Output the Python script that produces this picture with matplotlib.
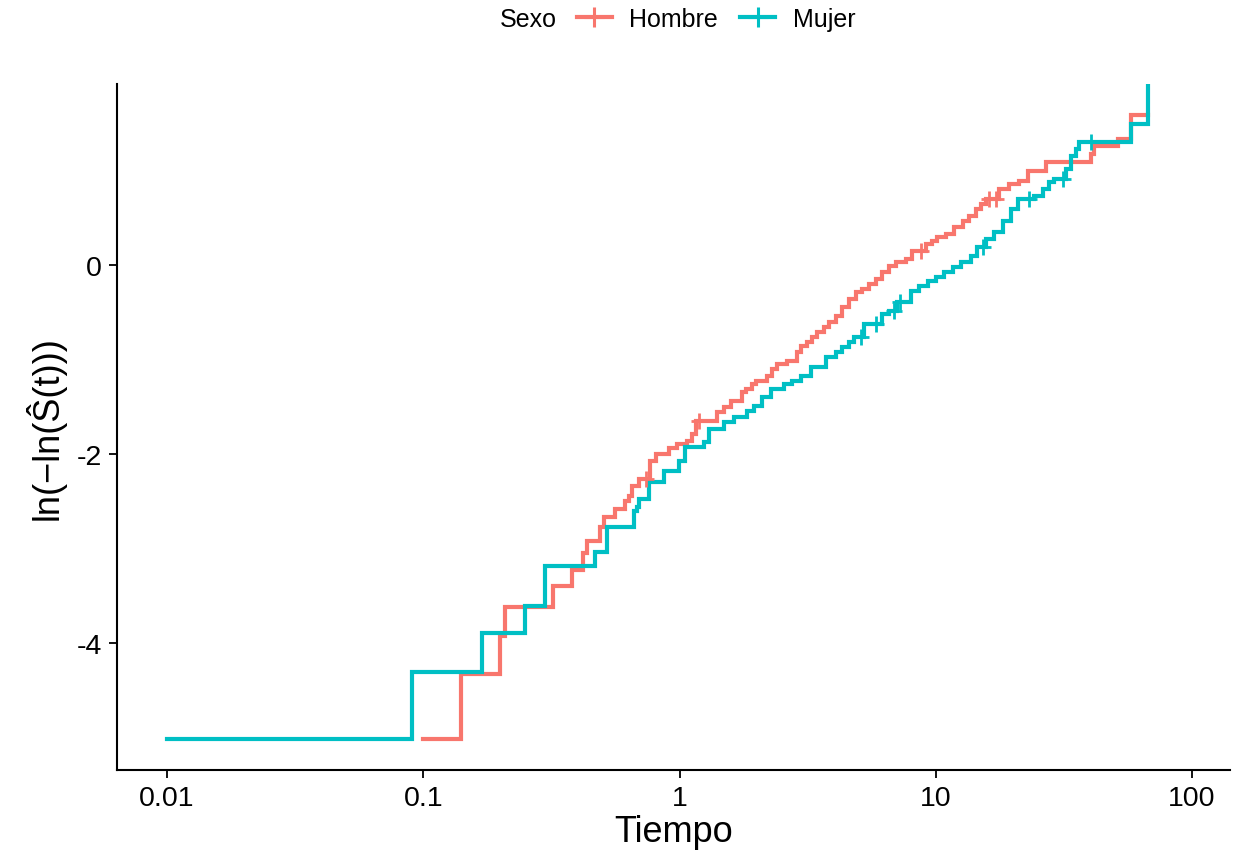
import numpy as np
import matplotlib
matplotlib.use("Agg")
import matplotlib.pyplot as plt
from matplotlib.lines import Line2D

plt.rcParams['font.family'] = ['Liberation Sans', 'DejaVu Sans']

# ---- data: step times and ln(-ln(S(t))) values ----
hombre_t = [0.100, 0.1404, 0.200, 0.209, 0.322, 0.381, 0.420, 0.436, 0.491, 0.506,
            0.562, 0.615, 0.634, 0.653, 0.694, 0.770, 0.806, 0.908, 0.979, 1.072,
            1.121, 1.155, 1.404, 1.485, 1.582, 1.758, 1.811, 1.923, 1.981, 2.201,
            2.302, 2.408, 2.634, 2.883, 2.969, 3.155, 3.299, 3.451, 3.662, 3.830,
            4.068, 4.320, 4.585, 4.870, 5.172, 5.489, 5.832, 6.193, 6.571, 6.980,
            7.636, 8.110, 9.141, 9.707, 10.15, 10.94, 11.79, 12.72, 13.49, 14.33,
            14.99, 15.68, 17.67, 19.34, 21.16, 22.82, 26.90, 40.32, 41.54, 51.27,
            57.78, 67.1]
hombre_v = [-5.02, -4.328, -3.923, -3.616, -3.394, -3.224, -3.048, -2.917, -2.776, -2.670,
            -2.582, -2.494, -2.441, -2.335, -2.265, -2.071, -2.000, -1.940, -1.894, -1.859,
            -1.788, -1.648, -1.559, -1.503, -1.436, -1.344, -1.312, -1.259, -1.224, -1.171,
            -1.101, -1.048, -1.013, -0.924, -0.854, -0.818, -0.765, -0.712, -0.659, -0.606,
            -0.537, -0.448, -0.360, -0.289, -0.254, -0.201, -0.148, -0.077, -0.007, 0.029,
            0.063, 0.151, 0.222, 0.257, 0.293, 0.328, 0.399, 0.469, 0.522, 0.593,
            0.646, 0.698, 0.804, 0.857, 0.892, 0.995, 1.085, 1.175, 1.262, 1.333,
            1.587, 1.587]
hombre_cens = [0.743, 1.186, 8.74, 16.1, 17.1]

mujer_t = [0.010, 0.0903, 0.1695, 0.2503, 0.2996, 0.4695, 0.522, 0.663, 0.684, 0.694,
           0.759, 0.868, 0.994, 1.055, 1.244, 1.302, 1.489, 1.630, 1.839, 1.951,
           2.104, 2.267, 2.556, 2.755, 2.969, 3.250, 3.718, 4.068, 4.320, 4.585,
           4.796, 5.248, 6.193, 6.571, 7.086, 7.988, 8.606, 9.282, 10.0, 10.78,
           11.62, 12.52, 13.70, 14.46, 15.68, 16.90, 18.22, 19.63, 20.85, 24.21,
           26.12, 27.71, 28.98, 32.19, 33.67, 35.24, 36.30, 57.78, 67.1]
mujer_v = [-5.02, -4.304, -3.897, -3.605, -3.188, -3.040, -2.776, -2.600, -2.564, -2.476,
           -2.299, -2.177, -2.071, -1.929, -1.876, -1.735, -1.665, -1.612, -1.542, -1.489,
           -1.400, -1.312, -1.259, -1.224, -1.171, -1.083, -0.977, -0.924, -0.871, -0.818,
           -0.765, -0.624, -0.519, -0.484, -0.395, -0.272, -0.219, -0.166, -0.130, -0.077,
           -0.024, 0.029, 0.098, 0.190, 0.275, 0.346, 0.469, 0.593, 0.698, 0.733,
           0.804, 0.875, 0.910, 1.016, 1.157, 1.228, 1.305, 1.492, np.inf]
mujer_cens = [5.093, 5.832, 6.852, 7.23, 15.22, 23.15, 31.26, 40.32]

groups = ["Hombre", "Mujer"]
colors = ["#F8766D", "#00BFC4"]
xticks = [0.01, 0.1, 1, 10, 100]
xticklabels = ["0.01", "0.1", "1", "10", "100"]
yticks = [-4, -2, 0]

# ---- figure ----
W, H = 1236, 854
fig = plt.figure(figsize=(W / 100, H / 100), dpi=100)
ax = fig.add_axes([117 / W, 1 - 771 / H, (1230 - 117) / W, (771 - 85) / H])

ylim = (-5.344, 1.915)
ax.set_xscale('log')
ax.set_xlim(10 ** -2.195, 10 ** 2.148)
ax.set_ylim(*ylim)

data = [(hombre_t, hombre_v, hombre_cens), (mujer_t, mujer_v, mujer_cens)]
for (t, v, c), col, name in zip(data, colors, groups):
    t = np.asarray(t, float)
    v = np.asarray(v, float)
    vd = np.where(np.isinf(v), ylim[1] + 1, v)
    ax.step(t, vd, where='post', color=col, lw=3.0, solid_joinstyle='miter', zorder=2)
    c = np.asarray(c, float)
    idx = np.searchsorted(t, c, side='right') - 1
    ax.plot(c, v[idx], linestyle='none', marker='+', markersize=12, mew=2.0,
            color=col, zorder=3)

ax.set_xticks(xticks)
ax.set_xticklabels(xticklabels)
ax.xaxis.set_minor_locator(matplotlib.ticker.NullLocator())
ax.set_yticks(yticks)
ax.set_yticklabels([str(y) for y in yticks])

for s in ['top', 'right']:
    ax.spines[s].set_visible(False)
for s in ['left', 'bottom']:
    ax.spines[s].set_linewidth(1.5)
ax.tick_params(axis='both', which='major', length=6, width=1.3, labelsize=20.5,
               colors='black', pad=5)

ax.set_xlabel("Tiempo", fontsize=26, labelpad=2)
ax.set_ylabel("ln(\u2212ln(\u015C(t)))", fontsize=26, labelpad=8)

# legend at top
handles = [Line2D([], [], color=col, lw=3.0, marker='+', markersize=15, mew=2.2)
           for col in colors]
leg = fig.legend(handles, groups, loc='center', bbox_to_anchor=(716 / W, 1 - 20 / H),
                 ncol=2, frameon=False, fontsize=18, handlelength=1.4,
                 handletextpad=0.7, columnspacing=0.9)
fig.text(528 / W, 1 - 20 / H, "Sexo", fontsize=18, ha='center', va='center')

fig.savefig("out.png", dpi=100)
